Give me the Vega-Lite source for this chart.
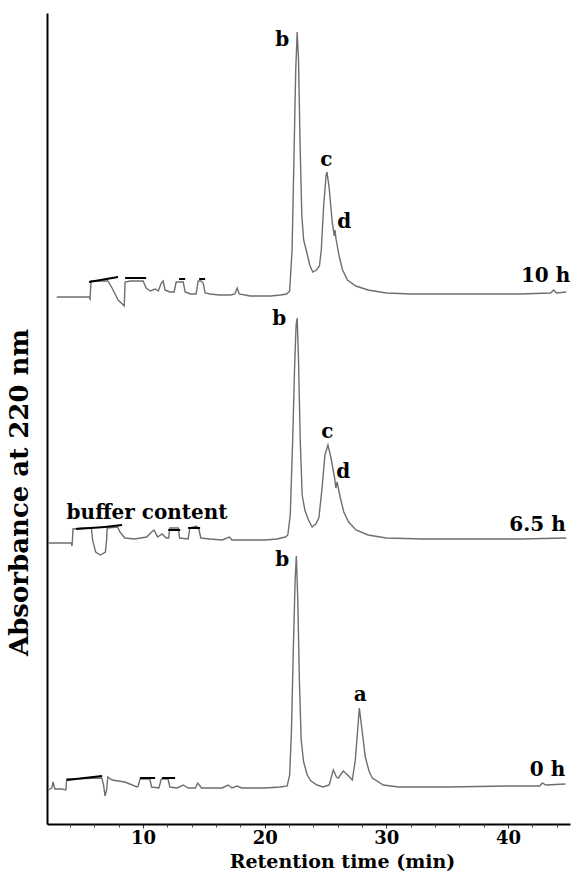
{
  "$schema": "https://vega.github.io/schema/vega-lite/v6.json",
  "width": 523,
  "height": 811,
  "autosize": {"type": "none"},
  "padding": {"left": 47, "top": 13, "right": 4, "bottom": 47},
  "background": "white",
  "config": {"view": {"stroke": null}},
  "datasets": {
    "traces": [
      {"run": "10 h", "t": 2.9, "v": 527}, {"run": "10 h", "t": 5.55, "v": 527}, {"run": "10 h", "t": 5.64, "v": 525}, {"run": "10 h", "t": 5.72, "v": 543},
      {"run": "10 h", "t": 6.5, "v": 543}, {"run": "10 h", "t": 7.1, "v": 543}, {"run": "10 h", "t": 7.45, "v": 536}, {"run": "10 h", "t": 7.95, "v": 524},
      {"run": "10 h", "t": 8.45, "v": 518}, {"run": "10 h", "t": 8.52, "v": 542}, {"run": "10 h", "t": 8.95, "v": 543}, {"run": "10 h", "t": 10.0, "v": 543},
      {"run": "10 h", "t": 10.25, "v": 536}, {"run": "10 h", "t": 10.6, "v": 533}, {"run": "10 h", "t": 11.0, "v": 535}, {"run": "10 h", "t": 11.25, "v": 533},
      {"run": "10 h", "t": 11.5, "v": 541}, {"run": "10 h", "t": 11.65, "v": 543}, {"run": "10 h", "t": 11.8, "v": 534}, {"run": "10 h", "t": 12.2, "v": 532},
      {"run": "10 h", "t": 12.55, "v": 532}, {"run": "10 h", "t": 12.72, "v": 542}, {"run": "10 h", "t": 13.3, "v": 542}, {"run": "10 h", "t": 13.46, "v": 532},
      {"run": "10 h", "t": 13.9, "v": 530}, {"run": "10 h", "t": 14.36, "v": 530}, {"run": "10 h", "t": 14.53, "v": 543}, {"run": "10 h", "t": 14.77, "v": 543},
      {"run": "10 h", "t": 14.94, "v": 541}, {"run": "10 h", "t": 15.1, "v": 531}, {"run": "10 h", "t": 15.5, "v": 530}, {"run": "10 h", "t": 16.3, "v": 529},
      {"run": "10 h", "t": 17.2, "v": 529}, {"run": "10 h", "t": 17.55, "v": 530}, {"run": "10 h", "t": 17.74, "v": 536}, {"run": "10 h", "t": 17.9, "v": 530},
      {"run": "10 h", "t": 18.8, "v": 528}, {"run": "10 h", "t": 19.6, "v": 528}, {"run": "10 h", "t": 20.5, "v": 528}, {"run": "10 h", "t": 21.3, "v": 529},
      {"run": "10 h", "t": 21.8, "v": 530}, {"run": "10 h", "t": 22.05, "v": 533}, {"run": "10 h", "t": 22.25, "v": 574}, {"run": "10 h", "t": 22.4, "v": 664},
      {"run": "10 h", "t": 22.55, "v": 754}, {"run": "10 h", "t": 22.67, "v": 792}, {"run": "10 h", "t": 22.78, "v": 764}, {"run": "10 h", "t": 22.9, "v": 684},
      {"run": "10 h", "t": 23.05, "v": 609}, {"run": "10 h", "t": 23.2, "v": 584}, {"run": "10 h", "t": 23.45, "v": 572}, {"run": "10 h", "t": 23.7, "v": 559},
      {"run": "10 h", "t": 23.95, "v": 552}, {"run": "10 h", "t": 24.25, "v": 554}, {"run": "10 h", "t": 24.5, "v": 558}, {"run": "10 h", "t": 24.65, "v": 574},
      {"run": "10 h", "t": 24.85, "v": 619}, {"run": "10 h", "t": 25.05, "v": 649}, {"run": "10 h", "t": 25.12, "v": 652}, {"run": "10 h", "t": 25.3, "v": 636},
      {"run": "10 h", "t": 25.55, "v": 602}, {"run": "10 h", "t": 25.72, "v": 588}, {"run": "10 h", "t": 25.78, "v": 594}, {"run": "10 h", "t": 25.85, "v": 586},
      {"run": "10 h", "t": 26.1, "v": 569}, {"run": "10 h", "t": 26.4, "v": 554}, {"run": "10 h", "t": 26.8, "v": 544}, {"run": "10 h", "t": 27.5, "v": 538},
      {"run": "10 h", "t": 28.5, "v": 534}, {"run": "10 h", "t": 30.0, "v": 531}, {"run": "10 h", "t": 32.0, "v": 530}, {"run": "10 h", "t": 35.0, "v": 530},
      {"run": "10 h", "t": 38.0, "v": 530}, {"run": "10 h", "t": 41.0, "v": 530}, {"run": "10 h", "t": 43.5, "v": 531}, {"run": "10 h", "t": 43.75, "v": 534},
      {"run": "10 h", "t": 44.0, "v": 531}, {"run": "10 h", "t": 44.8, "v": 532},

      {"run": "6.5 h", "t": 2.2, "v": 281}, {"run": "6.5 h", "t": 4.1, "v": 281}, {"run": "6.5 h", "t": 4.16, "v": 278}, {"run": "6.5 h", "t": 4.24, "v": 295},
      {"run": "6.5 h", "t": 5.0, "v": 296}, {"run": "6.5 h", "t": 5.75, "v": 296}, {"run": "6.5 h", "t": 5.85, "v": 284}, {"run": "6.5 h", "t": 6.1, "v": 272},
      {"run": "6.5 h", "t": 6.5, "v": 269}, {"run": "6.5 h", "t": 6.9, "v": 272}, {"run": "6.5 h", "t": 7.0, "v": 284}, {"run": "6.5 h", "t": 7.05, "v": 296},
      {"run": "6.5 h", "t": 7.9, "v": 297}, {"run": "6.5 h", "t": 8.1, "v": 292}, {"run": "6.5 h", "t": 8.5, "v": 286}, {"run": "6.5 h", "t": 9.3, "v": 285},
      {"run": "6.5 h", "t": 10.3, "v": 287}, {"run": "6.5 h", "t": 10.7, "v": 292}, {"run": "6.5 h", "t": 10.9, "v": 294}, {"run": "6.5 h", "t": 11.2, "v": 287},
      {"run": "6.5 h", "t": 11.56, "v": 290}, {"run": "6.5 h", "t": 11.9, "v": 286}, {"run": "6.5 h", "t": 12.1, "v": 286}, {"run": "6.5 h", "t": 12.2, "v": 296},
      {"run": "6.5 h", "t": 12.9, "v": 296}, {"run": "6.5 h", "t": 13.0, "v": 286}, {"run": "6.5 h", "t": 13.7, "v": 285}, {"run": "6.5 h", "t": 13.85, "v": 296},
      {"run": "6.5 h", "t": 14.4, "v": 298}, {"run": "6.5 h", "t": 14.6, "v": 294}, {"run": "6.5 h", "t": 14.75, "v": 286}, {"run": "6.5 h", "t": 15.5, "v": 285},
      {"run": "6.5 h", "t": 16.5, "v": 284}, {"run": "6.5 h", "t": 17.1, "v": 287}, {"run": "6.5 h", "t": 17.3, "v": 284}, {"run": "6.5 h", "t": 18.5, "v": 284},
      {"run": "6.5 h", "t": 20.0, "v": 284}, {"run": "6.5 h", "t": 21.0, "v": 285}, {"run": "6.5 h", "t": 21.7, "v": 287}, {"run": "6.5 h", "t": 21.9, "v": 289},
      {"run": "6.5 h", "t": 22.1, "v": 309}, {"run": "6.5 h", "t": 22.3, "v": 384}, {"run": "6.5 h", "t": 22.45, "v": 454}, {"run": "6.5 h", "t": 22.58, "v": 499},
      {"run": "6.5 h", "t": 22.67, "v": 506}, {"run": "6.5 h", "t": 22.78, "v": 464}, {"run": "6.5 h", "t": 22.92, "v": 384}, {"run": "6.5 h", "t": 23.08, "v": 329},
      {"run": "6.5 h", "t": 23.3, "v": 314}, {"run": "6.5 h", "t": 23.6, "v": 304}, {"run": "6.5 h", "t": 23.9, "v": 297}, {"run": "6.5 h", "t": 24.2, "v": 300},
      {"run": "6.5 h", "t": 24.45, "v": 306}, {"run": "6.5 h", "t": 24.7, "v": 334}, {"run": "6.5 h", "t": 24.95, "v": 369}, {"run": "6.5 h", "t": 25.2, "v": 379},
      {"run": "6.5 h", "t": 25.45, "v": 366}, {"run": "6.5 h", "t": 25.75, "v": 346}, {"run": "6.5 h", "t": 25.85, "v": 336}, {"run": "6.5 h", "t": 25.95, "v": 342},
      {"run": "6.5 h", "t": 26.2, "v": 327}, {"run": "6.5 h", "t": 26.5, "v": 312}, {"run": "6.5 h", "t": 26.9, "v": 302}, {"run": "6.5 h", "t": 27.5, "v": 294},
      {"run": "6.5 h", "t": 28.5, "v": 289}, {"run": "6.5 h", "t": 30.0, "v": 286}, {"run": "6.5 h", "t": 33.0, "v": 285}, {"run": "6.5 h", "t": 37.0, "v": 285},
      {"run": "6.5 h", "t": 41.0, "v": 285}, {"run": "6.5 h", "t": 44.8, "v": 286},

      {"run": "0 h", "t": 2.18, "v": 34}, {"run": "0 h", "t": 2.5, "v": 36}, {"run": "0 h", "t": 2.6, "v": 42}, {"run": "0 h", "t": 2.75, "v": 35},
      {"run": "0 h", "t": 3.3, "v": 35}, {"run": "0 h", "t": 3.65, "v": 34}, {"run": "0 h", "t": 3.72, "v": 45}, {"run": "0 h", "t": 6.6, "v": 46},
      {"run": "0 h", "t": 6.75, "v": 39}, {"run": "0 h", "t": 6.87, "v": 28}, {"run": "0 h", "t": 7.0, "v": 34}, {"run": "0 h", "t": 7.1, "v": 47},
      {"run": "0 h", "t": 7.45, "v": 44}, {"run": "0 h", "t": 8.5, "v": 42}, {"run": "0 h", "t": 9.5, "v": 37}, {"run": "0 h", "t": 9.6, "v": 38},
      {"run": "0 h", "t": 9.75, "v": 45}, {"run": "0 h", "t": 10.55, "v": 45}, {"run": "0 h", "t": 10.7, "v": 37}, {"run": "0 h", "t": 11.3, "v": 36},
      {"run": "0 h", "t": 11.5, "v": 45}, {"run": "0 h", "t": 12.05, "v": 45}, {"run": "0 h", "t": 12.2, "v": 37}, {"run": "0 h", "t": 12.8, "v": 36},
      {"run": "0 h", "t": 13.3, "v": 39}, {"run": "0 h", "t": 13.7, "v": 36}, {"run": "0 h", "t": 14.3, "v": 36}, {"run": "0 h", "t": 14.5, "v": 41},
      {"run": "0 h", "t": 14.8, "v": 36}, {"run": "0 h", "t": 16.5, "v": 36}, {"run": "0 h", "t": 17.0, "v": 39}, {"run": "0 h", "t": 17.3, "v": 36},
      {"run": "0 h", "t": 17.74, "v": 38}, {"run": "0 h", "t": 18.1, "v": 36}, {"run": "0 h", "t": 20.0, "v": 36}, {"run": "0 h", "t": 21.3, "v": 37},
      {"run": "0 h", "t": 21.85, "v": 38}, {"run": "0 h", "t": 22.05, "v": 49}, {"run": "0 h", "t": 22.2, "v": 94}, {"run": "0 h", "t": 22.35, "v": 174},
      {"run": "0 h", "t": 22.5, "v": 244}, {"run": "0 h", "t": 22.6, "v": 268}, {"run": "0 h", "t": 22.72, "v": 224}, {"run": "0 h", "t": 22.85, "v": 144},
      {"run": "0 h", "t": 23.0, "v": 84}, {"run": "0 h", "t": 23.2, "v": 62}, {"run": "0 h", "t": 23.5, "v": 49}, {"run": "0 h", "t": 23.8, "v": 43},
      {"run": "0 h", "t": 24.3, "v": 39}, {"run": "0 h", "t": 24.8, "v": 37}, {"run": "0 h", "t": 25.3, "v": 39}, {"run": "0 h", "t": 25.64, "v": 54},
      {"run": "0 h", "t": 25.9, "v": 47}, {"run": "0 h", "t": 26.05, "v": 46}, {"run": "0 h", "t": 26.46, "v": 53}, {"run": "0 h", "t": 26.9, "v": 48},
      {"run": "0 h", "t": 27.2, "v": 44}, {"run": "0 h", "t": 27.45, "v": 64}, {"run": "0 h", "t": 27.78, "v": 116}, {"run": "0 h", "t": 28.0, "v": 94},
      {"run": "0 h", "t": 28.27, "v": 67}, {"run": "0 h", "t": 28.6, "v": 52}, {"run": "0 h", "t": 28.85, "v": 46}, {"run": "0 h", "t": 29.75, "v": 39},
      {"run": "0 h", "t": 31.0, "v": 37}, {"run": "0 h", "t": 35.0, "v": 37}, {"run": "0 h", "t": 40.0, "v": 38}, {"run": "0 h", "t": 42.6, "v": 38},
      {"run": "0 h", "t": 42.84, "v": 41}, {"run": "0 h", "t": 43.1, "v": 39}, {"run": "0 h", "t": 44.73, "v": 40}
    ],
    "markers": [
      {"run": "10 h", "t": 5.56, "t2": 7.94, "v": 542, "v2": 547},
      {"run": "10 h", "t": 8.52, "t2": 10.25, "v": 546, "v2": 546},
      {"run": "10 h", "t": 12.96, "t2": 13.46, "v": 545, "v2": 545},
      {"run": "10 h", "t": 14.61, "t2": 15.1, "v": 545, "v2": 545},
      {"run": "6.5 h", "t": 4.49, "t2": 6.87, "v": 295, "v2": 297},
      {"run": "6.5 h", "t": 6.87, "t2": 8.27, "v": 297, "v2": 299},
      {"run": "6.5 h", "t": 12.06, "t2": 13.05, "v": 294, "v2": 294},
      {"run": "6.5 h", "t": 13.7, "t2": 14.69, "v": 296, "v2": 296},
      {"run": "0 h", "t": 3.74, "t2": 6.63, "v": 44, "v2": 48},
      {"run": "0 h", "t": 9.75, "t2": 10.99, "v": 46, "v2": 46},
      {"run": "0 h", "t": 11.56, "t2": 12.63, "v": 46, "v2": 46}
    ],
    "labels": [
      {"t": 21.44, "v": 784, "text": "b"},
      {"t": 25.06, "v": 664, "text": "c"},
      {"t": 26.54, "v": 602, "text": "d"},
      {"t": 43.09, "v": 548, "text": "10 h"},
      {"t": 21.19, "v": 505, "text": "b"},
      {"t": 25.14, "v": 392, "text": "c"},
      {"t": 26.46, "v": 352, "text": "d"},
      {"t": 42.43, "v": 299, "text": "6.5 h"},
      {"t": 10.33, "v": 311, "text": "buffer content"},
      {"t": 21.44, "v": 264, "text": "b"},
      {"t": 27.86, "v": 129, "text": "a"},
      {"t": 43.25, "v": 54, "text": "0 h"}
    ],
    "minorTicks": [
      {"t": 4}, {"t": 6}, {"t": 8}, {"t": 12}, {"t": 14}, {"t": 16}, {"t": 18}, {"t": 22}, {"t": 24}, {"t": 26}, {"t": 28},
      {"t": 32}, {"t": 34}, {"t": 36}, {"t": 38}, {"t": 42}, {"t": 44}
    ]
  },
  "resolve": {"axis": {"x": "independent"}},
  "layer": [
    {
      "layer": [
        {
          "data": {"name": "traces"},
          "mark": {"type": "line", "color": "#6e6e6e", "strokeWidth": 1.4},
          "encoding": {
            "x": {
              "field": "t", "type": "quantitative",
              "scale": {"domain": [2.1, 45.1], "nice": false, "zero": false},
              "axis": {
                "orient": "bottom",
                "values": [10, 20, 30, 40],
                "labelOverlap": false,
                "labelFlush": false,
                "grid": false,
                "tickSize": 4, "tickColor": "#333333", "tickWidth": 1,
                "domainColor": "black", "domainWidth": 2,
                "labelFont": "DejaVu Serif", "labelFontWeight": "bold", "labelFontSize": 18, "labelColor": "black", "labelPadding": 1,
                "title": "Retention time (min)",
                "titleFont": "DejaVu Serif", "titleFontWeight": "bold", "titleFontSize": 19, "titleColor": "black",
                "titleX": 295, "titleY": 37, "titleAlign": "center", "titleBaseline": "middle"
              }
            },
            "y": {
              "field": "v", "type": "quantitative",
              "scale": {"domain": [0, 811], "nice": false, "zero": false},
              "axis": {
                "ticks": false, "labels": false, "grid": false,
                "domainColor": "black", "domainWidth": 2,
                "title": "Absorbance at 220 nm",
                "titleFont": "DejaVu Serif", "titleFontWeight": "bold", "titleFontSize": 26, "titleColor": "black",
                "titleX": -28, "titleY": 479, "titleAngle": -90, "titleAlign": "center", "titleBaseline": "middle"
              }
            },
            "detail": {"field": "run", "type": "nominal"}
          }
        },
        {
          "data": {"name": "markers"},
          "mark": {"type": "rule", "color": "black", "strokeWidth": 2},
          "encoding": {
            "x": {"field": "t", "type": "quantitative"},
            "x2": {"field": "t2"},
            "y": {"field": "v", "type": "quantitative"},
            "y2": {"field": "v2"}
          }
        },
        {
          "data": {"name": "labels"},
          "mark": {"type": "text", "font": "DejaVu Serif", "fontWeight": "bold", "fontSize": 20, "color": "black", "align": "center", "baseline": "middle"},
          "encoding": {
            "x": {"field": "t", "type": "quantitative"},
            "y": {"field": "v", "type": "quantitative"},
            "text": {"field": "text", "type": "nominal"}
          }
        }
      ]
    },
    {
      "data": {"name": "minorTicks"},
      "mark": {"type": "point", "opacity": 0},
      "encoding": {
        "x": {
          "field": "t", "type": "quantitative",
          "scale": {"domain": [2.1, 45.1], "nice": false, "zero": false},
          "axis": {
            "orient": "bottom",
            "values": [4, 6, 8, 12, 14, 16, 18, 22, 24, 26, 28, 32, 34, 36, 38, 42, 44],
            "labels": false, "grid": false, "domain": false, "title": null,
            "tickSize": 3, "tickColor": "#444444", "tickWidth": 1
          }
        },
        "y": {"datum": 0, "type": "quantitative"}
      }
    }
  ]
}
